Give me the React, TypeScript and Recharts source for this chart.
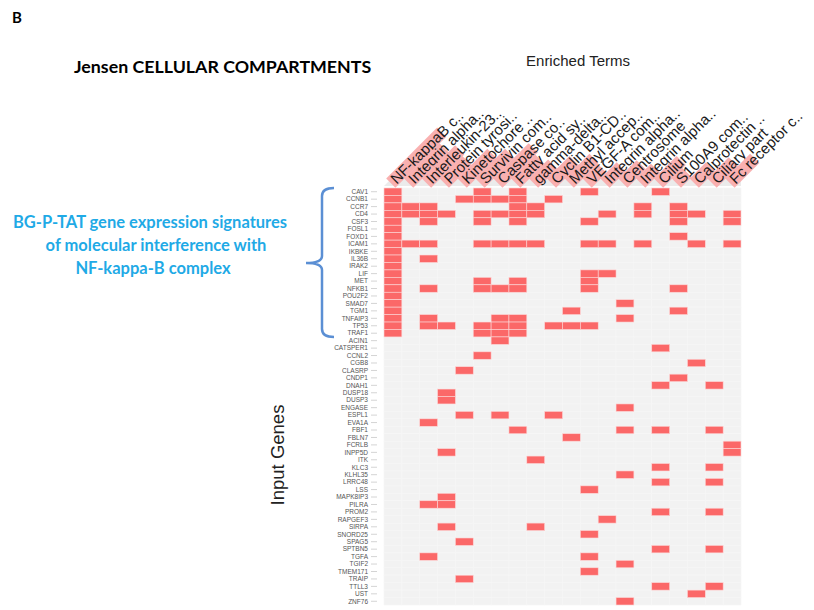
import React from 'react';
import { ScatterChart, Scatter, XAxis, YAxis } from 'recharts';

// enriched cellular-compartment terms (columns)
const terms = [
  'NF-kappaB c..', 'Integrin alpha..', 'Interleukin-23..', 'Protein tyrosi..', 'Kinetochore ..',
  'Survivin com..', 'Caspase co..', 'Fatty acid sy..', 'gamma-delta..', 'Cyclin B1-CD..',
  'Methyl accep..', 'VEGF-A com..', 'Integrin alpha..', 'Centrosome', 'Integrin alpha..',
  'Cilium', 'S100A9 com..', 'Calprotectin ..', 'Ciliary part', 'Fc receptor c..',
];

// length of the pink highlight behind each term label
const termScore = [72, 50, 47, 32, 42, 42, 50, 34, 27, 32, 35, 21, 23, 26, 21, 32, 15, 23, 30, 35];

// input genes (rows, top to bottom)
const genes = [
  'CAV1', 'CCNB1', 'CCR7', 'CD4', 'CSF3', 'FOSL1', 'FOXD1', 'ICAM1', 'IKBKE', 'IL36B',
  'IRAK2', 'LIF', 'MET', 'NFKB1', 'POU2F2', 'SMAD7', 'TGM1', 'TNFAIP3', 'TP53', 'TRAF1',
  'ACIN1', 'CATSPER1', 'CCNL2', 'CGB8', 'CLASRP', 'CNDP1', 'DNAH1', 'DUSP18', 'DUSP3', 'ENGASE',
  'ESPL1', 'EVA1A', 'FBF1', 'FBLN7', 'FCRLB', 'INPP5D', 'ITK', 'KLC3', 'KLHL35', 'LRRC48',
  'LSS', 'MAPK8IP3', 'PILRA', 'PROM2', 'RAPGEF3', 'SIRPA', 'SNORD25', 'SPAG5', 'SPTBN5', 'TGFA',
  'TGIF2', 'TMEM171', 'TRAIP', 'TTLL3', 'UST', 'ZNF76',
];

// term indices each gene is annotated with
const geneHits = [
  [0, 5, 7, 11, 15],
  [0, 4, 5, 6, 7, 9],
  [0, 1, 2, 7, 8, 14, 16],
  [0, 1, 2, 3, 5, 6, 7, 8, 12, 14, 16, 17, 19],
  [0, 2, 5, 7, 11, 16, 19],
  [0],
  [0, 16],
  [0, 1, 2, 5, 6, 7, 8, 11, 12, 14, 17, 19],
  [0],
  [0, 2],
  [0],
  [0, 11, 12],
  [0, 5, 7, 11],
  [0, 2, 5, 6, 7, 11, 16],
  [0],
  [0, 13],
  [0, 10, 16],
  [0, 2, 6, 7, 13],
  [0, 2, 3, 5, 6, 7, 9, 10, 11],
  [0, 5, 6, 7],
  [6],
  [15],
  [5],
  [17],
  [4],
  [16],
  [15, 18],
  [3],
  [3],
  [13],
  [4, 6, 9],
  [2],
  [7, 13, 15, 18],
  [10],
  [19],
  [3, 19],
  [8],
  [15, 18],
  [13],
  [15, 18],
  [11],
  [3],
  [2, 3],
  [15, 18],
  [12],
  [3, 8],
  [11],
  [4],
  [15, 18],
  [2, 11],
  [13],
  [11],
  [4],
  [15, 18],
  [17],
  [13],
];

const W = 814;
const H = 610;
const PLOT = { left: 384, top: 188, right: 741, bottom: 605 };
const cellW = (PLOT.right - PLOT.left) / terms.length;
const cellH = (PLOT.bottom - PLOT.top) / genes.length;

const tiles = genes.flatMap((_, gi) => terms.map((__, ti) => ({ term: ti, gene: gi })));
const hits = geneHits.flatMap((list, gi) => list.map((ti) => ({ term: ti, gene: gi })));

const tileShape = (fill: string, stroke: string) => (p: any) => (
  <rect
    x={p.cx - cellW / 2}
    y={p.cy - cellH / 2}
    width={cellW}
    height={cellH}
    fill={fill}
    stroke={stroke}
    strokeWidth={0.6}
  />
);

const TermTick = ({ x, y, payload }: any) => {
  const i = payload.value;
  return (
    <g transform={`translate(${x},${y}) rotate(-45)`}>
      <rect x={-3} y={-6.5} width={termScore[i]} height={13} fill="#f9b0b0" />
      <text x={0} y={0} dy="0.35em" fontSize={15} fill="#1a1a1a" fontFamily="'Liberation Sans', Arial, sans-serif">
        {terms[i]}
      </text>
    </g>
  );
};

const GeneTick = ({ x, y, payload }: any) => (
  <g>
    <line x1={x + 3} x2={x + 9} y1={y} y2={y} stroke="#d4d4d4" strokeWidth={1} />
    <text x={x} y={y} dy="0.35em" textAnchor="end" fontSize={6.5} fill="#555" fontFamily="'Liberation Sans', Arial, sans-serif">
      {genes[payload.value]}
    </text>
  </g>
);

const blue = '#1faae6';

const Annotations = () => (
  <svg width={W} height={H} style={{ position: 'absolute', left: 0, top: 0 }}>
    <text x={12} y={23} fontSize={15} fontWeight={700} fontFamily="Lato, sans-serif" fill="#000">B</text>
    <text x={74} y={73} fontSize={17.8} fontWeight={700} fontFamily="Lato, sans-serif" fill="#000">
      Jensen CELLULAR COMPARTMENTS
    </text>
    <text x={578} y={66} fontSize={15} textAnchor="middle" fontFamily="'Liberation Sans', Arial, sans-serif" fill="#222">
      Enriched Terms
    </text>
    <g fontFamily="Lato, sans-serif" fontWeight={700} fontSize={16.5} fill={blue} textAnchor="middle">
      <text x={150} y={228}>BG-P-TAT gene expression signatures</text>
      <text x={156} y={251}>of molecular interference with</text>
      <text x={153} y={274}>NF-kappa-B complex</text>
    </g>
    <path
      d="M334,188 Q322,188 322,196 L322,256 Q322,263 306,263 Q322,263 322,270 L322,329 Q322,337 334,337"
      fill="none"
      stroke="#5b8fd4"
      strokeWidth={2.5}
    />
    <text
      transform="translate(284,455) rotate(-90)"
      fontSize={18.5}
      textAnchor="middle"
      fontFamily="'Liberation Sans', Arial, sans-serif"
      fill="#222"
    >
      Input Genes
    </text>
    <polygon points="384,186 393,177 741,177 741,186" fill="#ebebeb" />
  </svg>
);

export default function App() {
  return (
    <div style={{ position: 'absolute', left: 0, top: 0, width: W, height: H, background: '#fff' }}>
      <Annotations />
      <div style={{ position: 'absolute', left: 0, top: 0 }}>
        <ScatterChart
          width={W}
          height={H}
          margin={{ top: 8, right: W - PLOT.right, bottom: H - PLOT.bottom, left: PLOT.left - 80 }}
        >
          <XAxis
            type="number"
            dataKey="term"
            orientation="top"
            domain={[-0.5, terms.length - 0.5]}
            ticks={terms.map((_, i) => i)}
            interval={0}
            height={PLOT.top - 8}
            tickSize={0}
            tickMargin={7}
            axisLine={false}
            tickLine={false}
            tick={<TermTick />}
          />
          <YAxis
            type="number"
            dataKey="gene"
            reversed
            domain={[-0.5, genes.length - 0.5]}
            ticks={genes.map((_, i) => i)}
            interval={0}
            width={80}
            tickSize={6}
            tickMargin={10}
            axisLine={false}
            tickLine={false}
            tick={<GeneTick />}
          />
          <Scatter data={tiles} shape={tileShape('#f2f2f2', '#f6f6f6')} isAnimationActive={false} />
          <Scatter data={hits} shape={tileShape('#fb6868', '#fcd6d6')} isAnimationActive={false} />
        </ScatterChart>
      </div>
    </div>
  );
}
